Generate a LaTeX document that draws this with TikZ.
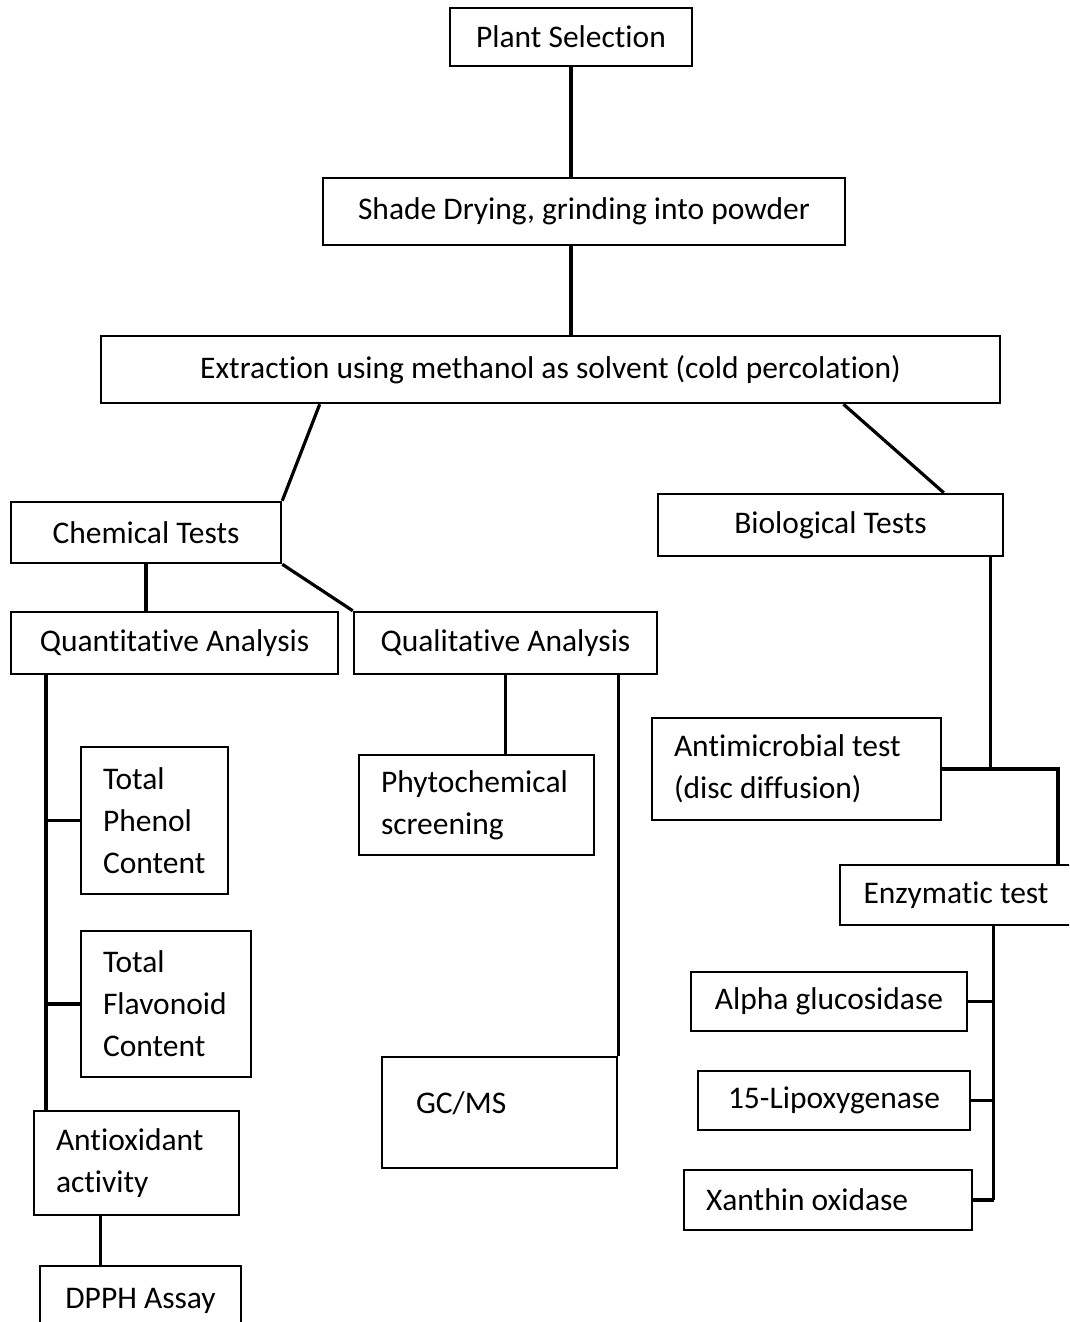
\documentclass[tikz,border=0pt]{standalone}
\usepackage{fontspec}
\setmainfont{Carlito}[Ligatures=NoCommon]
\usetikzlibrary{calc}
\tikzset{box/.style={shape=rectangle,draw=black,line width=2.5pt,inner sep=0pt,
    font=\fontsize{31.5}{42}\selectfont},
  lbox/.style={box,align=flush left,inner xsep=22pt},
  link/.style={draw=black,line width=3.2pt}}

\begin{document}
\begin{tikzpicture}[x=1pt,y=-1pt]
    \useasboundingbox (0,0) rectangle (1069,1322);
    \clip (0,0) rectangle (1069,1322);
    % main chain
    \node[box,minimum width=242pt,minimum height=58pt] (plant) at (571,37) {Plant Selection};
    \node[box,minimum width=522pt,minimum height=67pt] (shade) at (584,211.5) {Shade Drying, grinding into powder};
    \node[box,minimum width=899pt,minimum height=67pt] (extr) at (550.5,369.5) {Extraction using methanol as solvent (cold percolation)};
    % chemical side
    \node[box,minimum width=270pt,minimum height=61pt] (chem) at (146,532.5) {Chemical Tests};
    \node[box,minimum width=327pt,minimum height=62pt] (quant) at (174.5,643) {Quantitative Analysis};
    \node[box,minimum width=303pt,minimum height=62pt] (qual) at (505.5,643) {Qualitative Analysis};
    \node[lbox,text width=103pt,minimum height=147pt] (phenol) at (154.5,820.5) {Total\\Phenol\\Content};
    \node[lbox,text width=126pt,minimum height=146pt] (flav) at (166,1004) {Total\\Flavonoid\\Content};
    \node[lbox,text width=161pt,minimum height=104pt] (antiox) at (136.5,1163) {Antioxidant\\activity};
    \node[box,minimum width=201pt,minimum height=70pt] (dpph) at (140.5,1301) {DPPH Assay};
    \node[lbox,text width=191pt,minimum height=100pt] (phyto) at (476.5,805) {Phytochemical\\screening};
    \node[lbox,inner xsep=34pt,text width=167pt,text depth=19pt,minimum height=111pt] (gcms) at (499.5,1112.5) {GC/MS};
    % biological side
    \node[box,minimum width=345pt,minimum height=62pt] (bio) at (830.5,525) {Biological Tests};
    \node[lbox,text width=245pt,minimum height=102pt] (anti) at (796.5,769) {Antimicrobial test\\(disc diffusion)};
    \node[box,minimum width=232pt,minimum height=60pt] (enz) at (956,895) {Enzymatic test};
    \node[box,minimum width=276pt,minimum height=59pt] (alpha) at (829,1001.5) {Alpha glucosidase};
    \node[box,minimum width=272pt,minimum height=59pt] (lipox) at (834,1100.5) {15-Lipoxygenase};
    \node[lbox,text width=244pt,minimum height=60pt] (xan) at (828,1200) {Xanthin oxidase};

    \coordinate (extrL) at ($(extr.south west)!0.244!(extr.south east)$);
    \coordinate (extrR) at ($(extr.south west)!0.825!(extr.south east)$);
    \coordinate (bioTop) at ($(bio.north west)!0.826!(bio.north east)$);
    \coordinate (bioBot) at ($(bio.south west)!0.96!(bio.south east)$);
    \coordinate (quantBot) at ($(quant.south west)!0.11!(quant.south east)$);
    \coordinate (antioxBot) at ($(antiox.south west)!0.327!(antiox.south east)$);
    \coordinate (enzTop) at ($(enz.north west)!0.935!(enz.north east)$);
    \coordinate (enzBot) at ($(enz.south west)!0.66!(enz.south east)$);

    \draw[link] (plant.south) -- (plant.south |- shade.north);
    \draw[link] (plant.south |- shade.south) -- (plant.south |- extr.north);
    \draw[link] (extrL) -- (chem.north east);
    \draw[link] (extrR) -- (bioTop);
    \draw[link] (chem.south) -- (chem.south |- quant.north);
    \draw[link] (chem.south east) -- (qual.north west);
    \draw[link] (qual.south) -- (qual.south |- phyto.north);
    \draw[link] (gcms.north east |- qual.south) -- (gcms.north east);
    \draw[link] (quantBot) -- (quantBot |- antiox.north);
    \draw[link] (quantBot |- phenol.west) -- (phenol.west);
    \draw[link] (quantBot |- flav.west) -- (flav.west);
    \draw[link] (antioxBot) -- (antioxBot |- dpph.north);
    \draw[link] (bioBot) -- (bioBot |- anti.east);
    \draw[link] (anti.east) -- (enzTop |- anti.east) -- (enzTop);
    \draw[link] (enzBot) -- (enzBot |- xan.east);
    \draw[link] (alpha.east) -- (enzBot |- alpha.east);
    \draw[link] (lipox.east) -- (enzBot |- lipox.east);
    \draw[link] (xan.east) -- (enzBot |- xan.east);
  \end{tikzpicture}
\end{document}
